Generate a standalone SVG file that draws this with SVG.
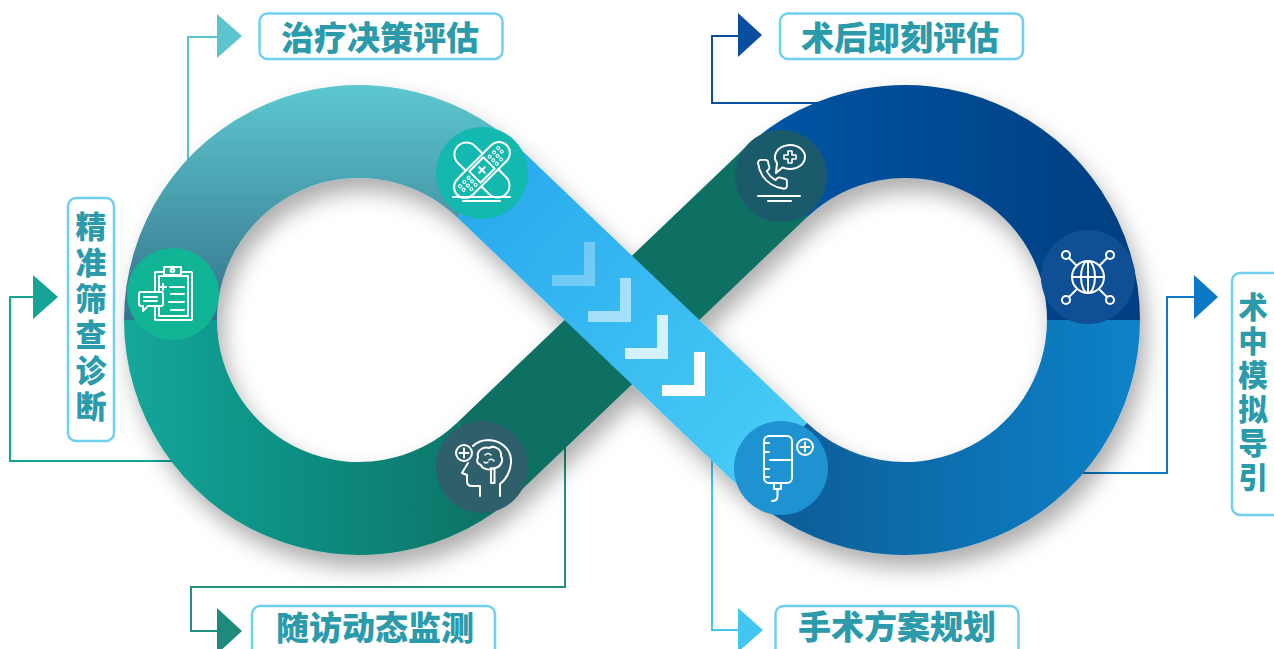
<svg xmlns="http://www.w3.org/2000/svg" width="1274" height="649" viewBox="0 0 1274 649">
  <defs>
    <style>
      .lbl{fill:#fff;stroke:#6fd0f2;stroke-width:2.5}
      .txt{font-family:"Noto Sans CJK SC","Noto Sans",sans-serif;font-weight:900;fill:#2b9bab}
      .vt{writing-mode:vertical-rl;text-orientation:upright}
      .ln{fill:none;stroke-width:2}
      .ic{fill:none;stroke:#fff;stroke-width:2;stroke-linecap:round;stroke-linejoin:round}
    </style>
    <filter id="shadow" x="-10%" y="-10%" width="125%" height="135%">
      <feDropShadow dx="6" dy="13" stdDeviation="11" flood-color="#000" flood-opacity="0.32"/>
    </filter>
    <linearGradient id="gLeftTop" gradientUnits="userSpaceOnUse" x1="0" y1="85" x2="0" y2="320">
      <stop offset="0" stop-color="#5dc7cf"/>
      <stop offset="1" stop-color="#35738a"/>
    </linearGradient>
    <linearGradient id="gLeftBot" gradientUnits="userSpaceOnUse" x1="124" y1="0" x2="489" y2="0">
      <stop offset="0" stop-color="#12a79b"/>
      <stop offset="1" stop-color="#0f7366"/>
    </linearGradient>
    <linearGradient id="gBlue" gradientUnits="userSpaceOnUse" x1="489" y1="184" x2="775" y2="456">
      <stop offset="0" stop-color="#2aaaee"/>
      <stop offset="1" stop-color="#47cbf5"/>
    </linearGradient>
    <linearGradient id="gRightTop" gradientUnits="userSpaceOnUse" x1="742" y1="0" x2="1140" y2="0">
      <stop offset="0" stop-color="#0056a6"/>
      <stop offset="1" stop-color="#003e80"/>
    </linearGradient>
    <linearGradient id="gRightBot" gradientUnits="userSpaceOnUse" x1="742" y1="0" x2="1140" y2="0">
      <stop offset="0" stop-color="#075a92"/>
      <stop offset="1" stop-color="#0f82c9"/>
    </linearGradient>
    <polygon id="chev" points="-43,-11 -11,-11 -11,-44 0,-44 0,0 -43,0" fill="#fff"/>
  </defs>

  <!-- connectors from the loop to each label -->
  <g id="connectors">
    <polyline class="ln" stroke="#5bc4cc" points="188,165 188,37 217,37"/>
    <polygon fill="#5bc4cc" points="217,14 242,36 217,58"/>
    <polyline class="ln" stroke="#0a4ea0" points="820,103 712,103 712,36 738,36"/>
    <polygon fill="#0a4ea0" points="738,13 762,35 738,57"/>
    <polyline class="ln" stroke="#14a394" points="175,461 10,461 10,297 33,297"/>
    <polygon fill="#14a394" points="33,275 58,297 33,319"/>
    <polyline class="ln" stroke="#0b79c6" points="1078,473 1167,473 1167,297 1194,297"/>
    <polygon fill="#0b79c6" points="1194,275 1218,297 1194,319"/>
    <polyline class="ln" stroke="#22907f" points="565,440 565,587 191,587 191,631 217,631"/>
    <polygon fill="#1e8a7b" points="217,608 242,631 217,654"/>
    <polyline class="ln" stroke="#41c6f2" points="712,455 712,630 738,630"/>
    <polygon fill="#41c6f2" points="738,608 763,630 738,652"/>
  </g>

  <!-- infinity loop -->
  <g id="loop" filter="url(#shadow)">
    <path fill="url(#gLeftTop)" d="M124 320 A235 235 0 0 1 521.4 150.1 L457.1 217.3 A142 142 0 0 0 217 320 Z"/>
    <path fill="url(#gLeftBot)" d="M124 320 A235 235 0 0 0 521.4 489.9 L457.1 422.7 A142 142 0 0 1 217 320 Z"/>
    <path fill="url(#gRightTop)" d="M742.6 150.1 A235 235 0 0 1 1140 320 L1047 320 A142 142 0 0 0 806.9 217.3 Z"/>
    <path fill="url(#gRightBot)" d="M1140 320 A235 235 0 0 1 742.6 489.9 L806.9 422.7 A142 142 0 0 0 1047 320 Z"/>
    <polygon fill="#116f62" points="457.1,422.7 521.4,489.9 806.9,217.3 742.6,150.1"/>
    <polygon fill="url(#gBlue)" points="521.4,150.1 806.9,422.7 742.6,489.9 457.1,217.3"/>
  </g>

  <!-- direction chevrons on the crossing band -->
  <g id="chevrons">
    <use href="#chev" x="595" y="286" opacity="0.3"/>
    <use href="#chev" x="631" y="322" opacity="0.55"/>
    <use href="#chev" x="668" y="359" opacity="0.78"/>
    <use href="#chev" x="705" y="396"/>
  </g>

  <!-- node: treatment decision (bandages) -->
  <g id="node-treatment">
    <circle cx="482" cy="173" r="46" fill="#13b9ae"/>
    <g transform="translate(482,170)" class="ic">
      <rect x="-34" y="-12" width="68" height="24" rx="12" transform="rotate(45)"/>
      <g transform="rotate(-45)">
        <rect x="-35" y="-11" width="70" height="22" rx="11" fill="#13b9ae"/>
        <rect x="-10" y="-8" width="20" height="16"/>
        <path d="M0 -4 V4 M-4 0 H4"/>
        <g stroke-width="1.1">
          <circle cx="-27" cy="-4" r="1.5"/><circle cx="-21" cy="-4" r="1.5"/><circle cx="-15" cy="-4" r="1.5"/>
          <circle cx="-27" cy="1" r="1.5"/><circle cx="-21" cy="1" r="1.5"/><circle cx="-15" cy="1" r="1.5"/>
          <circle cx="-21" cy="6" r="1.5"/><circle cx="-15" cy="6" r="1.5"/>
          <circle cx="15" cy="-4" r="1.5"/><circle cx="21" cy="-4" r="1.5"/><circle cx="27" cy="-4" r="1.5"/>
          <circle cx="15" cy="1" r="1.5"/><circle cx="21" cy="1" r="1.5"/><circle cx="27" cy="1" r="1.5"/>
          <circle cx="15" cy="6" r="1.5"/><circle cx="21" cy="6" r="1.5"/>
        </g>
      </g>
      <path d="M-29 27 H28 M-19 31 H18"/>
    </g>
  </g>

  <!-- node: post-operative assessment (phone) -->
  <g id="node-postop">
    <circle cx="781" cy="176" r="46" fill="#1b5a6b"/>
    <g class="ic">
      <path d="M782.5 167.4 A15 12 0 1 0 777 163 L776 173 Z"/>
      <path stroke-width="1.6" d="M788 151 h4 v4 h4 v4 h-4 v4 h-4 v-4 h-4 v-4 h4 z"/>
      <g transform="translate(755,157) scale(1.45)" stroke-width="1.3">
        <path d="M22 16.92v3a2 2 0 0 1-2.180 2 19.79 19.79 0 0 1-8.630-3.070 19.5 19.5 0 0 1-6-6 19.79 19.79 0 0 1-3.070-8.670A2 2 0 0 1 4.110 2h3a2 2 0 0 1 2 1.720 12.84 12.84 0 0 0 .7 2.810 2 2 0 0 1-.45 2.110L8.090 9.910a16 16 0 0 0 6 6l1.270-1.270a2 2 0 0 1 2.110-.45 12.84 12.84 0 0 0 2.810.7A2 2 0 0 1 22 16.920z"/>
      </g>
      <path d="M758 196 H800 M768 201 H791"/>
    </g>
  </g>

  <!-- node: precise screening (clipboard) -->
  <g id="node-screening">
    <circle cx="173" cy="294" r="46" fill="#11b596"/>
    <g class="ic">
      <rect x="155" y="272" width="37" height="48" rx="1"/>
      <rect x="159" y="276" width="29" height="40"/>
      <rect x="164" y="267" width="17" height="8" fill="#11b596"/>
      <circle cx="172.5" cy="270.5" r="1.8"/>
      <path d="M160 287 h6 M163 284 v6 M170 287 H184 M171 294 H184 M169 302 H184 M171 310 H184"/>
      <path d="M141 292 H161 Q163 292 163 294 V304 Q163 306 161 306 H148 L143 311 V306 H141 Q139 306 139 304 V294 Q139 292 141 292 Z" fill="#11b596"/>
      <path d="M144 297 H157 M144 301 H157"/>
    </g>
  </g>

  <!-- node: intra-operative navigation (globe) -->
  <g id="node-navigation">
    <circle cx="1088" cy="277" r="47" fill="#0f4f96"/>
    <g class="ic">
      <circle cx="1088" cy="277" r="16"/>
      <ellipse cx="1088" cy="277" rx="7" ry="16"/>
      <path d="M1088 261 V293 M1072 277 H1104"/>
      <circle cx="1066" cy="255" r="4"/><circle cx="1110" cy="255" r="4"/>
      <circle cx="1066" cy="300" r="4"/><circle cx="1110" cy="300" r="4"/>
      <path d="M1069 258 L1076 265 M1107 258 L1100 265 M1069 297 L1076 290 M1107 297 L1100 290"/>
    </g>
  </g>

  <!-- node: follow-up monitoring (head) -->
  <g id="node-followup">
    <circle cx="482" cy="467" r="46" fill="#2f5f6b"/>
    <g class="ic">
      <circle cx="464" cy="453" r="8"/>
      <path d="M459.5 453 h9 M464 448.5 v9"/>
      <path d="M473 446 Q479 440 489 440 C503 441 512 451 511 463 C510 473 505 480 500 484 V496"/>
      <path d="M468 463 L462 473 L467 475 V481 Q467 486 472 486 H480 V496"/>
      <path d="M478 458 C476 450 484 446 489 448 C494 445 502 449 501 456 C504 461 500 468 494 468 C490 471 482 469 481 465 C477 464 476 460 478 458 Z"/>
      <path stroke-width="1.5" d="M485 455 q3 -3 6 0 M489 460 q3 -2 5 1 M484 462 q2 2 4 0"/>
      <path d="M491 468 V483 M494.5 468 V483 M491 483 H494.5"/>
    </g>
  </g>

  <!-- node: surgical planning (IV bag) -->
  <g id="node-planning">
    <circle cx="781" cy="468" r="47" fill="#1f92d2"/>
    <g class="ic">
      <rect x="764" y="436" width="28" height="47" rx="5"/>
      <path d="M764 443 H769 M764 452 H769 M764 469 H769 M764 477 H769 M770 460 H790"/>
      <rect x="774" y="483" width="7" height="6"/>
      <path d="M777.5 489 V496 Q777.5 501 772 501"/>
      <circle cx="805" cy="447" r="8"/>
      <path d="M800.5 447 h9 M805 442.5 v9"/>
    </g>
  </g>

  <!-- labels -->
  <g id="label-treatment">
    <rect class="lbl" x="259.5" y="13.5" width="243" height="45.5" rx="8"/>
    <text class="txt" x="380" y="50" font-size="33" text-anchor="middle">治疗决策评估</text>
  </g>
  <g id="label-postop">
    <rect class="lbl" x="780" y="13.5" width="243" height="45.5" rx="8"/>
    <text class="txt" x="900" y="50" font-size="33" text-anchor="middle">术后即刻评估</text>
  </g>
  <g id="label-screening">
    <rect class="lbl" x="68" y="198" width="46" height="243" rx="8"/>
    <text class="txt vt" x="91" y="211" font-size="31" letter-spacing="5">精准筛查诊断</text>
  </g>
  <g id="label-navigation">
    <rect class="lbl" x="1232" y="273" width="52" height="242" rx="8"/>
    <text class="txt vt" x="1253" y="292" font-size="29.5" letter-spacing="4.5">术中模拟导引</text>
  </g>
  <g id="label-followup">
    <rect class="lbl" x="252" y="606" width="243" height="55" rx="8"/>
    <text class="txt" x="375" y="639.5" font-size="33" text-anchor="middle">随访动态监测</text>
  </g>
  <g id="label-planning">
    <rect class="lbl" x="775.5" y="606" width="243" height="55" rx="8"/>
    <text class="txt" x="897" y="639" font-size="33" text-anchor="middle">手术方案规划</text>
  </g>
</svg>
